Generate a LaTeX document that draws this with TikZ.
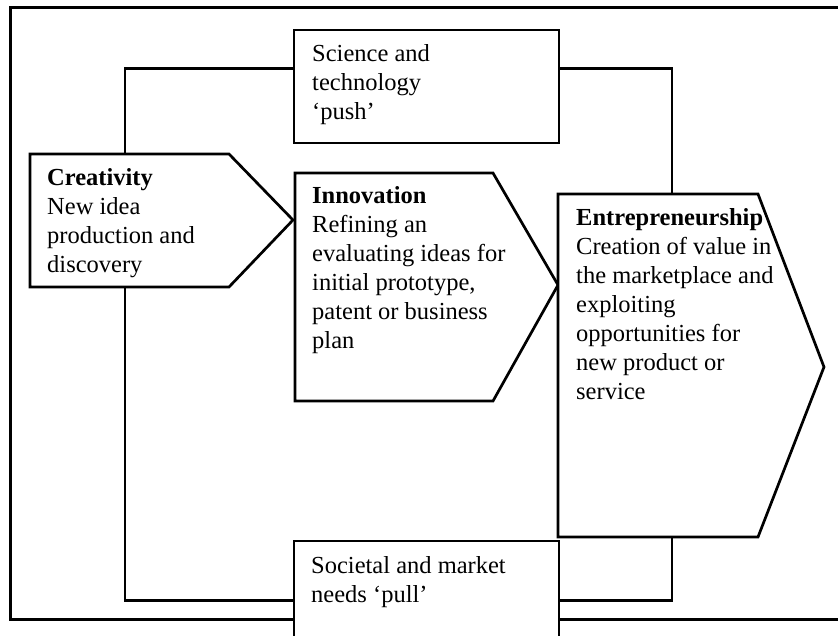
\documentclass[tikz,border=0pt]{standalone}
\usepackage{fontspec}
\setmainfont{Liberation Serif}
\begin{document}
\begin{tikzpicture}[x=1pt,y=-1pt,
  shp/.style={draw=black,line width=2.7pt,line join=miter,fill=white},
  frm/.style={draw=black,line width=3pt},
  conn/.style={draw=black,line width=2.7pt},
  rbox/.style={shp,rectangle,inner sep=0pt},
  txt/.style={anchor=base west,inner sep=0pt,font=\fontsize{24.5}{29}\selectfont}]
\useasboundingbox (0,0) rectangle (838,635);
\clip (0,0) rectangle (838,635);
% outer frame (open on the right)
\draw[frm] (838,7) -- (10,7) -- (10,619) -- (838,619);
% boxes
\node[rbox,minimum width=265pt,minimum height=113pt] (sci) at (426.5,86.5) {};
\node[rbox,minimum width=265pt,minimum height=130pt] (soc) at (426.5,606) {};
% arrow shapes
\draw[shp] (30,154) -- (229,154) -- (293,220) -- (229,287) -- (30,287) -- cycle;
\draw[shp] (295,173) -- (493,173) -- (558,285) -- (493,401) -- (295,401) -- cycle;
\draw[shp] (558,194) -- (758,194) -- (824,367) -- (758,537) -- (558,537) -- cycle;
\coordinate (cretop) at (125,154);
\coordinate (crebot) at (125,287);
\coordinate (enttop) at (672,194);
\coordinate (entbot) at (672,537);
% connectors
\draw[conn] ([yshift=-40pt]sci.north west) -| (cretop);
\draw[conn] ([yshift=-40pt]sci.north east) -| (enttop);
\draw[conn] ([yshift=-61pt]soc.north west) -| (crebot);
\draw[conn] ([yshift=-61pt]soc.north east) -| (entbot);
% texts
\node[txt] (scitext) at (312,61) {\parbox[t]{240pt}{Science and\\technology\\‘push’}};
\node[txt] (cretext) at (47,185) {\parbox[t]{240pt}{\textbf{Creativity}\\New idea\\production and\\discovery}};
\node[txt] (innotext) at (312,203) {\parbox[t]{240pt}{\textbf{Innovation}\\Refining an\\evaluating ideas for\\initial prototype,\\patent or business\\plan}};
\node[txt] (enttext) at (576,225) {\parbox[t]{240pt}{\textbf{Entrepreneurship}\\Creation of value in\\the marketplace and\\exploiting\\opportunities for\\new product or\\service}};
\node[txt] (soctext) at (311,573) {\parbox[t]{240pt}{Societal and market\\needs ‘pull’}};
\end{tikzpicture}
\end{document}
